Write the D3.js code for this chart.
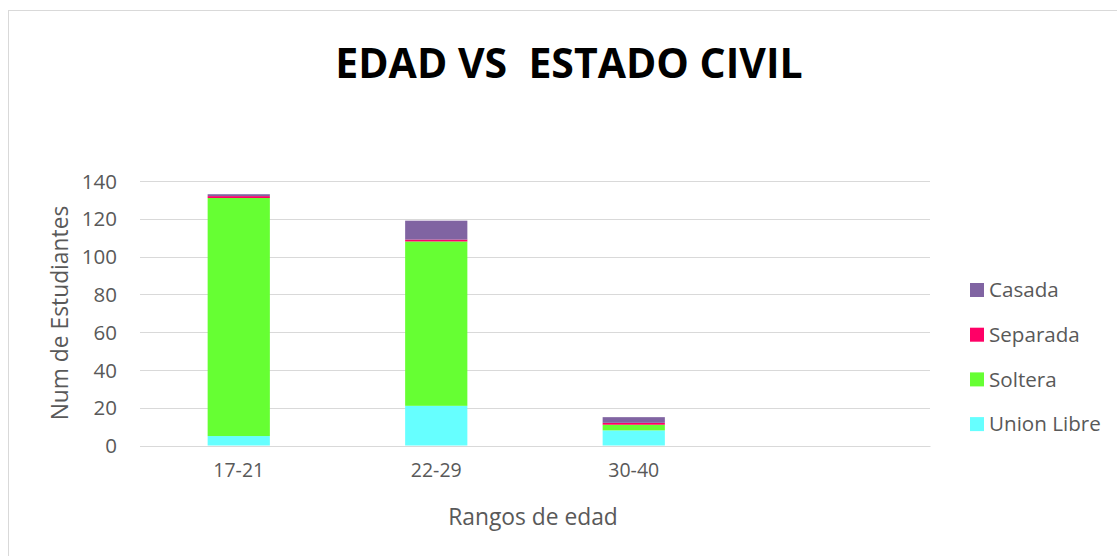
<!DOCTYPE html>
<html><head><meta charset="utf-8">
<script src="https://cdn.jsdelivr.net/npm/d3@7"></script>
<style>
body{margin:0;background:#fff;}
text{font-family:"Open Sans","Noto Sans",sans-serif;}
</style></head>
<body><svg id="c" width="1117" height="556"></svg>
<script>
const categories = ["17-21","22-29","30-40",""];
const series = ["Union Libre","Soltera","Separada","Casada"];
const unionLibre = [5,21,8,0];
const soltera = [126,87,3,0];
const separada = [1,1,1,0];
const casada = [1,10,3,0];
const colors = ["#66FFFF","#66FF33","#FF0066","#8064A2"];
const yTicks = [0,20,40,60,80,100,120,140];

const svg = d3.select("#c");
svg.append("rect").attr("x",8.5).attr("y",10.5).attr("width",1120).attr("height",560)
  .attr("fill","#fff").attr("stroke","#d9d9d9");

const x = d3.scaleBand().domain(categories).range([140,930]).paddingInner(0.685).paddingOuter(0.3425);
const y = d3.scaleLinear().domain([0,140]).range([445.5,181]);

const rows = categories.map((c,i)=>({cat:c,"Union Libre":unionLibre[i],"Soltera":soltera[i],"Separada":separada[i],"Casada":casada[i]}));
const stack = d3.stack().keys(series)(rows);

// grid
svg.append("g").selectAll("line").data(yTicks).join("line")
  .attr("x1",140).attr("x2",930).attr("y1",d=>Math.round(y(d))+0.5).attr("y2",d=>Math.round(y(d))+0.5)
  .attr("stroke","#d9d9d9").attr("stroke-width",1);

// y axis
const ya = svg.append("g").attr("transform","translate(140,0)").call(d3.axisLeft(y).tickValues(yTicks).tickSize(0).tickPadding(23));
ya.select(".domain").remove();
ya.selectAll("text").attr("fill","#595959").style("font-size","20.5px").attr("dy","0.35em");

// bars
svg.append("g").selectAll("g").data(stack).join("g").attr("fill",(d,i)=>colors[i])
  .selectAll("rect").data(d=>d).join("rect")
  .attr("x",d=>x(d.data.cat)).attr("width",x.bandwidth())
  .attr("y",d=>y(d[1])).attr("height",d=>y(d[0])-y(d[1]));

// x axis
const xa = svg.append("g").attr("transform","translate(0,446)").call(d3.axisBottom(x).tickSize(0).tickPadding(17));
xa.select(".domain").attr("stroke","#d9d9d9");
xa.selectAll("text").attr("fill","#595959").style("font-size","19.5px");

// title
svg.append("text").attr("x",569).attr("y",78).attr("text-anchor","middle")
  .style("white-space","pre").style("font-size","41px").style("font-weight","bold").attr("fill","#000")
  .text("EDAD VS  ESTADO CIVIL");

// axis titles
svg.append("text").attr("transform","translate(68,313) rotate(-90)").attr("text-anchor","middle")
  .attr("fill","#595959").style("font-size","22.8px").text("Num de Estudiantes");
svg.append("text").attr("x",533).attr("y",525).attr("text-anchor","middle")
  .attr("fill","#595959").style("font-size","22.8px").text("Rangos de edad");

// legend
const legendItems = series.slice().reverse();
const lg = svg.append("g").selectAll("g").data(legendItems).join("g")
  .attr("transform",(d,i)=>`translate(970,${290+i*44.7})`);
lg.append("rect").attr("x",0).attr("y",-7).attr("width",14).attr("height",14)
  .attr("fill",d=>colors[series.indexOf(d)]);
lg.append("text").attr("x",19).attr("dy","0.35em").attr("fill","#595959").style("font-size","20.6px").text(d=>d);
</script></body></html>
